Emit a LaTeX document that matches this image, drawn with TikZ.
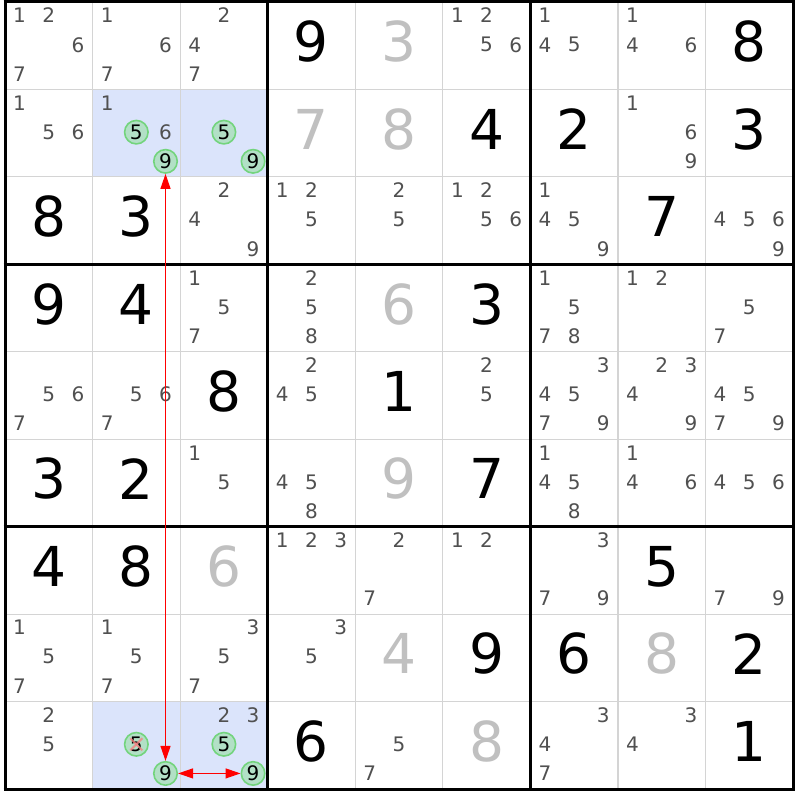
\documentclass[tikz,border=0pt]{standalone}
\usepackage{fontspec}
\setmainfont{DejaVu Sans}
\usetikzlibrary{arrows.meta}
\definecolor{candc}{RGB}{80,80,80}
\definecolor{solvc}{RGB}{192,192,192}
\definecolor{gridc}{RGB}{212,212,212}
\definecolor{hlc}{RGB}{219,228,251}
\definecolor{circfill}{RGB}{178,224,198}
\definecolor{circdraw}{RGB}{115,212,125}
\definecolor{crossc}{RGB}{245,130,130}
\definecolor{linkc}{RGB}{255,0,0}
\tikzset{
 givenst/.style={inner sep=0pt, font=\fontsize{55}{55}\selectfont, text=black},
 solvedst/.style={givenst, text=solvc},
 candst/.style={inner sep=0pt, font=\fontsize{20}{20}\selectfont, text=candc},
 circst/.style={circle, draw=circdraw, fill=circfill, line width=1.6pt, minimum size=23.5pt, inner sep=0pt, font=\fontsize{20}{20}\selectfont, text=black},
 gridthin/.style={draw=gridc, line width=1.2pt},
 gridthick/.style={draw=black, line width=3pt},
 hlcell/.style={fill=hlc},
 linkarrow/.style={draw=linkc, fill=linkc, line width=1.2pt, {Triangle[length=15pt,width=10pt]}-{Triangle[length=15pt,width=10pt]}},
 crossst/.style={draw=crossc, line width=2pt, opacity=0.8}
}
\newcommand\GivenD[3]{\node[givenst] (g#1#2) at ({5+87.556*(#2-0.5)},{2+87.444*(#1-0.5)-4}) {#3};}
\newcommand\SolvedD[3]{\node[solvedst] (s#1#2) at ({5+87.556*(#2-0.5)},{2+87.444*(#1-0.5)-4}) {#3};}
\newcommand\CandD[3]{\foreach \d in {#3}{\node[candst] (c#1#2d\d) at ({5+87.556*(#2-1)+29.185*(mod(\d-1,3)+0.5)},{2+87.444*(#1-1)+29.148*(floor((\d-1)/3)+0.5)-1}) {\d};}}
\newcommand\CircD[3]{\node[circst] (o#1#2d#3) at ({5+87.556*(#2-1)+29.185*(mod(#3-1,3)+0.5)},{2+87.444*(#1-1)+29.148*(floor((#3-1)/3)+0.5)-1}) {#3};}
\newcommand\HlCell[2]{\fill[hlcell] ({5+87.556*(#2-1)},{2+87.444*(#1-1)}) rectangle ({5+87.556*#2},{2+87.444*#1});}
\begin{document}
\begin{tikzpicture}[x=1pt,y=-1pt]
\useasboundingbox (0,0) rectangle (800,800);
\fill[white] (0,0) rectangle (800,800);
% highlighted cells
\HlCell{2}{2}\HlCell{2}{3}\HlCell{9}{2}\HlCell{9}{3}
% grid
\foreach \i in {1,2,4,5,7,8}{
 \draw[gridthin] ({5+87.556*\i},2) -- ({5+87.556*\i},789);
 \draw[gridthin] (5,{2+87.444*\i}) -- (793,{2+87.444*\i});
}
\foreach \i in {0,3,6,9}{
 \draw[gridthick] ({5+87.556*\i},0.5) -- ({5+87.556*\i},790.5);
 \draw[gridthick] (3.5,{2+87.444*\i}) -- (794.5,{2+87.444*\i});
}
% row 1
\CandD{1}{1}{1,2,6,7}\CandD{1}{2}{1,6,7}\CandD{1}{3}{2,4,7}\GivenD{1}{4}{9}\SolvedD{1}{5}{3}
\CandD{1}{6}{1,2,5,6}\CandD{1}{7}{1,4,5}\CandD{1}{8}{1,4,6}\GivenD{1}{9}{8}
% row 2
\CandD{2}{1}{1,5,6}\CandD{2}{2}{1,6}\CircD{2}{2}{5}\CircD{2}{2}{9}\CircD{2}{3}{5}\CircD{2}{3}{9}
\SolvedD{2}{4}{7}\SolvedD{2}{5}{8}\GivenD{2}{6}{4}\GivenD{2}{7}{2}\CandD{2}{8}{1,6,9}\GivenD{2}{9}{3}
% row 3
\GivenD{3}{1}{8}\GivenD{3}{2}{3}\CandD{3}{3}{2,4,9}\CandD{3}{4}{1,2,5}\CandD{3}{5}{2,5}
\CandD{3}{6}{1,2,5,6}\CandD{3}{7}{1,4,5,9}\GivenD{3}{8}{7}\CandD{3}{9}{4,5,6,9}
% row 4
\GivenD{4}{1}{9}\GivenD{4}{2}{4}\CandD{4}{3}{1,5,7}\CandD{4}{4}{2,5,8}\SolvedD{4}{5}{6}
\GivenD{4}{6}{3}\CandD{4}{7}{1,5,7,8}\CandD{4}{8}{1,2}\CandD{4}{9}{5,7}
% row 5
\CandD{5}{1}{5,6,7}\CandD{5}{2}{5,6,7}\GivenD{5}{3}{8}\CandD{5}{4}{2,4,5}\GivenD{5}{5}{1}
\CandD{5}{6}{2,5}\CandD{5}{7}{3,4,5,7,9}\CandD{5}{8}{2,3,4,9}\CandD{5}{9}{4,5,7,9}
% row 6
\GivenD{6}{1}{3}\GivenD{6}{2}{2}\CandD{6}{3}{1,5}\CandD{6}{4}{4,5,8}\SolvedD{6}{5}{9}
\GivenD{6}{6}{7}\CandD{6}{7}{1,4,5,8}\CandD{6}{8}{1,4,6}\CandD{6}{9}{4,5,6}
% row 7
\GivenD{7}{1}{4}\GivenD{7}{2}{8}\SolvedD{7}{3}{6}\CandD{7}{4}{1,2,3}\CandD{7}{5}{2,7}
\CandD{7}{6}{1,2}\CandD{7}{7}{3,7,9}\GivenD{7}{8}{5}\CandD{7}{9}{7,9}
% row 8
\CandD{8}{1}{1,5,7}\CandD{8}{2}{1,5,7}\CandD{8}{3}{3,5,7}\CandD{8}{4}{3,5}\SolvedD{8}{5}{4}
\GivenD{8}{6}{9}\GivenD{8}{7}{6}\SolvedD{8}{8}{8}\GivenD{8}{9}{2}
% row 9
\CandD{9}{1}{2,5}\CircD{9}{2}{5}\CircD{9}{2}{9}\CandD{9}{3}{2,3}\CircD{9}{3}{5}\CircD{9}{3}{9}
\GivenD{9}{4}{6}\CandD{9}{5}{5,7}\SolvedD{9}{6}{8}\CandD{9}{7}{3,4,7}\CandD{9}{8}{3,4}\GivenD{9}{9}{1}
% eliminated candidate cross
\draw[crossst] ([xshift=-6pt,yshift=-6pt]o92d5.center) -- ([xshift=6pt,yshift=6pt]o92d5.center);
\draw[crossst] ([xshift=-6pt,yshift=6pt]o92d5.center) -- ([xshift=6pt,yshift=-6pt]o92d5.center);
% links
\draw[linkarrow] (o22d9) -- (o92d9);
\draw[linkarrow] (o92d9) -- (o93d9);
\end{tikzpicture}
\end{document}
